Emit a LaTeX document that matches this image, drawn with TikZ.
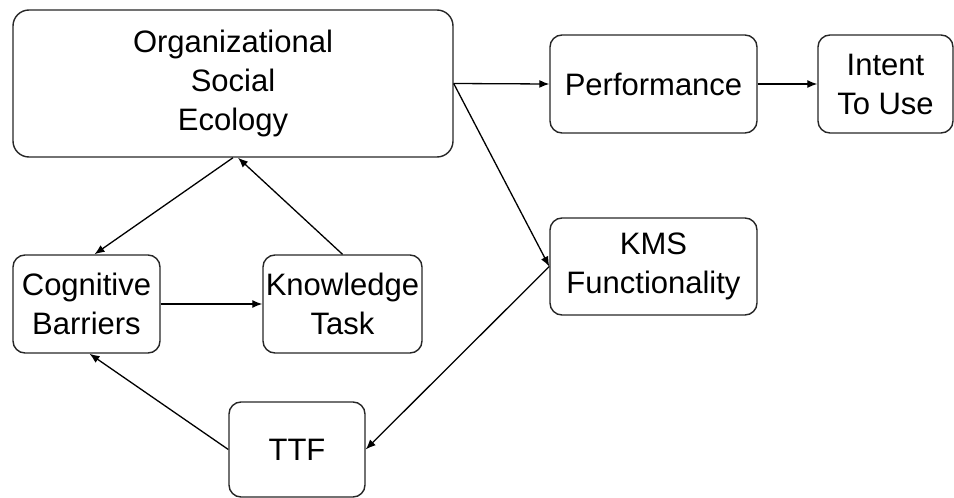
\documentclass[tikz,border=0pt]{standalone}
\usepackage{fontspec}
\setmainfont{Liberation Sans}
\usetikzlibrary{arrows.meta}
\begin{document}
\begin{tikzpicture}[x=1pt,y=-1pt,
  box/.style={draw=black!85, line width=1.4pt, rounded corners=12pt, align=center,
    inner sep=0pt, font=\fontsize{31}{39}\selectfont},
  conn/.style={line width=1.3pt, -{Latex[length=10pt,width=8pt]}}]
\useasboundingbox (0,0) rectangle (954,498);
\node[box, rounded corners=16pt, minimum width=440pt, minimum height=147pt] (ose) at (233,83.5) {Organizational\\Social\\Ecology};
\node[box, minimum width=207pt, minimum height=98pt] (perf) at (653.5,84) {Performance};
\node[box, minimum width=135pt, minimum height=98pt] (intent) at (885.5,84) {Intent\\To Use};
\node[box, minimum width=207pt, minimum height=97pt] (kms) at (653.5,266.5) {KMS\\Functionality};
\node[box, minimum width=147pt, minimum height=98pt] (cog) at (86.5,304) {Cognitive\\Barriers};
\node[box, minimum width=159pt, minimum height=98pt] (know) at (342.5,304) {Knowledge\\Task};
\node[box, minimum width=136pt, minimum height=95pt] (ttf) at (297,449.5) {TTF};
\draw[conn] (ose.east) -- (perf.west);
\draw[conn] (perf.east) -- (intent.west);
\draw[conn] (ose.east) -- (kms.west);
\draw[conn] (kms.west) -- (ttf.east);
\draw[conn] (ttf.west) -- ([xshift=3pt]cog.south);
\draw[conn] (cog.east) -- (know.west);
\draw[conn] (know.north) -- ([xshift=5pt]ose.south);
\draw[conn] (ose.south) -- ([xshift=8pt]cog.north);
\end{tikzpicture}
\end{document}
